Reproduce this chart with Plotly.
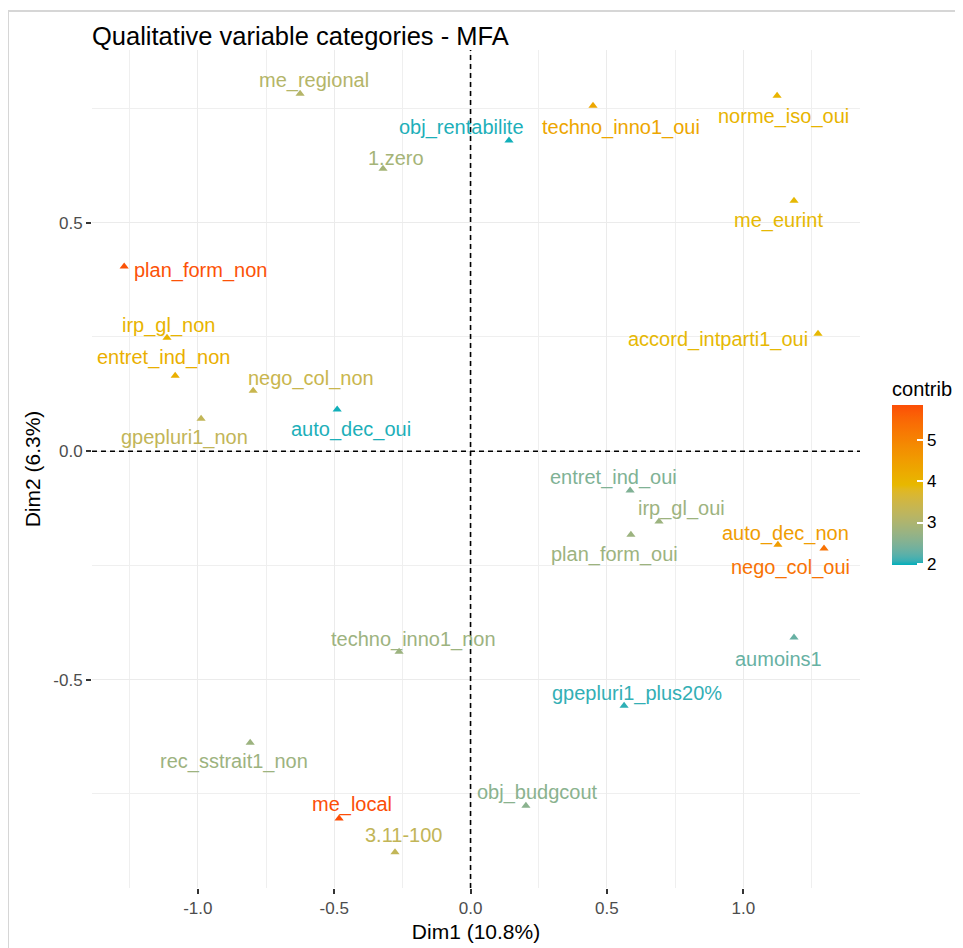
import plotly.graph_objects as go
import numpy as np

# ---------------- data ----------------
categories = ["me_regional", "techno_inno1_oui", "norme_iso_oui", "obj_rentabilite", "1.zero",
              "me_eurint", "plan_form_non", "irp_gl_non", "accord_intparti1_oui", "entret_ind_non",
              "nego_col_non", "auto_dec_oui", "gpepluri1_non", "entret_ind_oui", "irp_gl_oui",
              "plan_form_oui", "auto_dec_non", "nego_col_oui", "techno_inno1_non", "aumoins1",
              "gpepluri1_plus20%", "rec_sstrait1_non", "obj_budgcout", "me_local", "3.11-100"]
dim1 = [-0.625, 0.449, 1.124, 0.141, -0.321,
        1.186, -1.270, -1.113, 1.274, -1.083,
        -0.797, -0.489, -0.988, 0.585, 0.691,
        0.588, 1.127, 1.296, -0.262, 1.186,
        0.563, -0.808, 0.203, -0.482, -0.277]
dim2 = [0.782, 0.756, 0.778, 0.680, 0.618,
        0.548, 0.404, 0.248, 0.257, 0.165,
        0.132, 0.091, 0.071, -0.086, -0.154,
        -0.183, -0.205, -0.213, -0.439, -0.408,
        -0.557, -0.638, -0.776, -0.804, -0.878]
contrib = [3.1, 4.3, 4.0, 2.0, 2.9,
           3.9, 5.8, 4.0, 3.9, 4.1,
           3.4, 2.0, 3.3, 2.5, 2.8,
           2.8, 4.5, 5.3, 2.8, 2.3,
           2.05, 2.8, 2.6, 5.85, 3.3]
x_ticks = [-1.0, -0.5, 0.0, 0.5, 1.0]
y_ticks = [-0.5, 0.0, 0.5]
cbar_ticks = [2, 3, 4, 5]

# label offsets (pixels, repelled text placement)
label_dx = [14, 28, 6, -48, 13,
            -16, 76, 1, -100, -12,
            58, 14, -17, -17, 22,
            -16, 8, -34, 14, -16,
            13, -16, 12, 13, 8]
label_dy = [-13, 22, 21, -13, -11,
            20, 4, -12, 6, -18,
            -12, 20, 19, -13, -13,
            20, -11, 19, -12, 21,
            -12, 19, -13, -14, -17]

# ---------------- colour scale (Lab interpolation like ggplot) ----------------
stops_hex = ["#00AFBB", "#E7B800", "#FC4E07"]
cmin, cmax = 1.97, 5.85


def hex_to_lab(h):
    rgb = np.array([int(h[i:i + 2], 16) for i in (1, 3, 5)]) / 255.0
    lin = np.where(rgb <= 0.04045, rgb / 12.92, ((rgb + 0.055) / 1.055) ** 2.4)
    M = np.array([[0.4124, 0.3576, 0.1805], [0.2126, 0.7152, 0.0722], [0.0193, 0.1192, 0.9505]])
    xyz = M @ lin / np.array([0.95047, 1.0, 1.08883])
    f = np.where(xyz > 0.008856, np.cbrt(xyz), 7.787 * xyz + 16 / 116)
    return np.array([116 * f[1] - 16, 500 * (f[0] - f[1]), 200 * (f[1] - f[2])])


def lab_to_hex(lab):
    L, a, b = lab
    fy = (L + 16) / 116
    fx = fy + a / 500
    fz = fy - b / 200
    f = np.array([fx, fy, fz])
    xyz = np.where(f ** 3 > 0.008856, f ** 3, (f - 16 / 116) / 7.787) * np.array([0.95047, 1.0, 1.08883])
    Minv = np.array([[3.2406, -1.5372, -0.4986], [-0.9689, 1.8758, 0.0415], [0.0557, -0.2040, 1.0570]])
    lin = Minv @ xyz
    lin = np.clip(lin, 0, 1)
    rgb = np.where(lin <= 0.0031308, 12.92 * lin, 1.055 * lin ** (1 / 2.4) - 0.055)
    rgb = np.clip(np.round(rgb * 255), 0, 255).astype(int)
    return "#%02X%02X%02X" % tuple(rgb)


stops_lab = [hex_to_lab(h) for h in stops_hex]


def color_at(t):
    t = min(max(t, 0.0), 1.0)
    seg = min(int(t * 2), 1)
    loc = t * 2 - seg
    return lab_to_hex((1 - loc) * stops_lab[seg] + loc * stops_lab[seg + 1])


colorscale = [[i / 40, color_at(i / 40)] for i in range(41)]
text_colors = [color_at((c - cmin) / (cmax - cmin)) for c in contrib]

FONT = "Liberation Sans, Arial, sans-serif"

fig = go.Figure()
fig.add_trace(go.Scatter(
    x=dim1, y=dim2, mode="markers",
    marker=dict(symbol="triangle-up", size=8, color=contrib, colorscale=colorscale,
                cmin=cmin, cmax=cmax, line=dict(width=0),
                colorbar=dict(
                    title=dict(text="contrib", side="top", font=dict(size=20, color="#000000", family=FONT)),
                    tickvals=cbar_ticks, ticks="inside", tickcolor="white", ticklen=6, tickwidth=1.5,
                    tickfont=dict(size=17, color="#000000", family=FONT),
                    thickness=31, len=187, lenmode="pixels",
                    x=1.0417, xanchor="left", xpad=0,
                    y=0.6086, yanchor="top", ypad=0,
                    outlinewidth=0)),
    text=categories, hoverinfo="text", showlegend=False))

for name, x, y, dx, dy, col in zip(categories, dim1, dim2, label_dx, label_dy, text_colors):
    fig.add_annotation(x=x, y=y, text=name, showarrow=False, xshift=dx, yshift=-dy,
                       font=dict(size=20, color=col, family=FONT))

shapes = [
    dict(type="line", xref="x", yref="paper", x0=0, x1=0, y0=0, y1=1,
         line=dict(color="black", width=1.6, dash="5px,4px")),
    dict(type="line", xref="paper", yref="y", x0=0, x1=1, y0=0, y1=0,
         line=dict(color="black", width=1.6, dash="5px,4px")),
    dict(type="line", xref="paper", yref="paper", x0=-0.1094, x1=1.3, y0=1.0465, y1=1.0465,
         line=dict(color="#D6D6D6", width=2)),
    dict(type="line", xref="paper", yref="paper", x0=-0.1094, x1=-0.1094, y0=-0.2, y1=1.0465,
         line=dict(color="#D6D6D6", width=2)),
]

axis_common = dict(showline=False, zeroline=False, ticks="outside", ticklen=5, tickwidth=1.5,
                   tickcolor="#333333", showgrid=True, gridcolor="#EBEBEB", gridwidth=1.4,
                   tickfont=dict(size=17, color="#4D4D4D", family=FONT))

fig.update_layout(
    width=963, height=948,
    margin=dict(l=84, r=111, t=42, b=68),
    paper_bgcolor="white", plot_bgcolor="white",
    title=dict(text="Qualitative variable categories - MFA", x=84 / 963, xanchor="left",
               y=1 - 28 / 948, yanchor="middle", yref="container",
               font=dict(size=25.5, color="#000000", family=FONT)),
    xaxis=dict(range=[-1.388, 1.428], tickvals=x_ticks, ticktext=["-1.0", "-0.5", "0.0", "0.5", "1.0"],
               title=dict(text="Dim1 (10.8%)", standoff=6, font=dict(size=21, color="#000000", family=FONT)),
               minor=dict(dtick=0.25, tick0=0, showgrid=True, gridcolor="#EFEFEF", gridwidth=1.2, ticks=""),
               **axis_common),
    yaxis=dict(range=[-0.956, 0.878], tickvals=y_ticks, ticktext=["-0.5", "0.0", "0.5"],
               title=dict(text="Dim2 (6.3%)", standoff=6, font=dict(size=21, color="#000000", family=FONT)),
               minor=dict(dtick=0.25, tick0=0, showgrid=True, gridcolor="#EFEFEF", gridwidth=1.2, ticks=""),
               **axis_common),
    shapes=shapes,
)

fig.write_html("out.html")
